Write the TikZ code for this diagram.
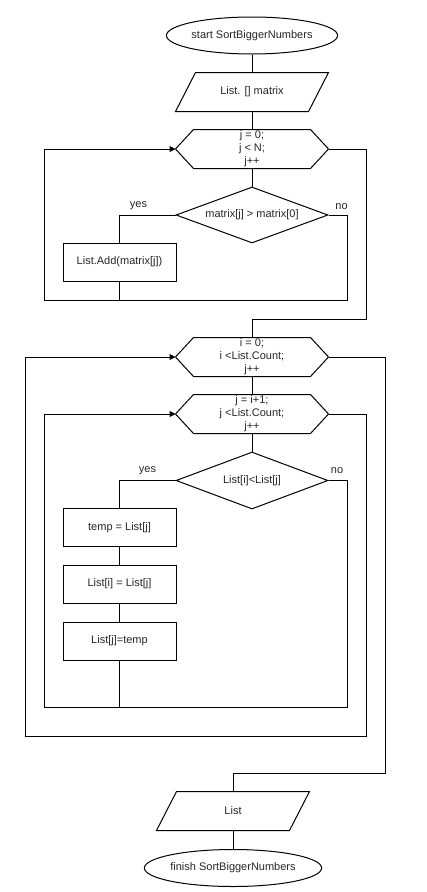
\documentclass[tikz,border=0pt]{standalone}
\usepackage{fontspec}
\setmainfont{Liberation Sans}
\usetikzlibrary{shapes.geometric,arrows.meta,calc}
\definecolor{txt}{HTML}{262626}
\begin{document}
\begin{tikzpicture}[x=1pt,y=-1pt,
  font=\fontsize{11}{13}\selectfont, text=txt, line width=1pt,
  term/.style={ellipse, draw, minimum width=152pt, minimum height=37pt, inner sep=0pt},
  procbox/.style={rectangle, draw, minimum width=113pt, minimum height=38pt, inner sep=0pt},
  decis/.style={diamond, draw, aspect=2.7, minimum width=152pt, minimum height=56pt, inner sep=0pt},
  frame/.style={rectangle, minimum width=152pt, minimum height=38pt, inner sep=0pt, align=center},
  arr/.style={-{Triangle[length=6pt,width=6pt]}},
  lbl/.style={inner sep=0pt}
]
\useasboundingbox (0,0) rectangle (427,892);

% nodes
\node[term] (start) at (252,35.5) {start SortBiggerNumbers};
\node[frame] (in1) at (252,92) {List. [] matrix};
\node[frame] (h1) at (252,149) {j = 0;\\ j < N;\\ j++};
\node[decis] (d1) at (252,215) {matrix[j] > matrix[0]};
\node[procbox] (add) at (119.5,262) {List.Add(matrix[j])};
\node[frame] (h2) at (252,357) {i = 0;\\ i <List.Count;\\ j++};
\node[frame] (h3) at (252,414) {j = i+1;\\ j <List.Count;\\ j++};
\node[decis, minimum height=57pt] (d2) at (252,480.5) {List[i]<List[j]};
\node[procbox] (t1) at (119.5,527.5) {temp = List[j]};
\node[procbox] (t2) at (119.5,584) {List[i] = List[j]};
\node[procbox] (t3) at (119.5,641) {List[j]=temp};
\node[frame] (out) at (233,811) {List};
\node[term] (end) at (233,868) {finish SortBiggerNumbers};

\node[lbl] (y1) at (138.5,206) {yes};
\node[lbl] (n1l) at (341.5,207) {no};
\node[lbl] (y2) at (147.5,471) {yes};
\node[lbl] (n2l) at (337,471) {no};

% parallelograms
\foreach \p in {in1,out}{
  \draw (\p.south west) -- ($(\p.south east)+(-20,0)$) -- (\p.north east) -- ($(\p.north west)+(20,0)$) -- cycle;
}
% hexagons
\foreach \h in {h1,h2,h3}{
  \draw (\h.west) -- ($(\h.north west)+(18,0)$) -- ($(\h.north east)+(-18,0)$) -- (\h.east) -- ($(\h.south east)+(-18,0)$) -- ($(\h.south west)+(18,0)$) -- cycle;
}

% coordinates
\coordinate (c1) at (44,300);
\coordinate (n1) at (347,300);
\coordinate (e1) at (366,319);
\coordinate (c3) at (44,707);
\coordinate (n3) at (347,707);
\coordinate (e3) at (366,736);
\coordinate (c2) at (25,736);
\coordinate (e2) at (385,773);

% connectors
\draw (start) -- (in1);
\draw (in1) -- (h1);
\draw (h1) -- (d1);
\draw (d1.west) -| (add.north);
\draw[arr] (add.south) |- (c1) |- (h1.west);
\draw (d1.east) -| (n1) -- (c1);
\draw (h1.east) -| (e1) -| (h2.north);
\draw (h2) -- (h3);
\draw (h3) -- (d2);
\draw (d2.west) -| (t1.north);
\draw (t1) -- (t2);
\draw (t2) -- (t3);
\draw[arr] (t3.south) |- (c3) |- (h3.west);
\draw (d2.east) -| (n3) -- (c3);
\draw[arr] (h3.east) -| (e3) -- (c2) |- (h2.west);
\draw (h2.east) -| (e2) -| (out.north);
\draw (out) -- (end);
\end{tikzpicture}
\end{document}
